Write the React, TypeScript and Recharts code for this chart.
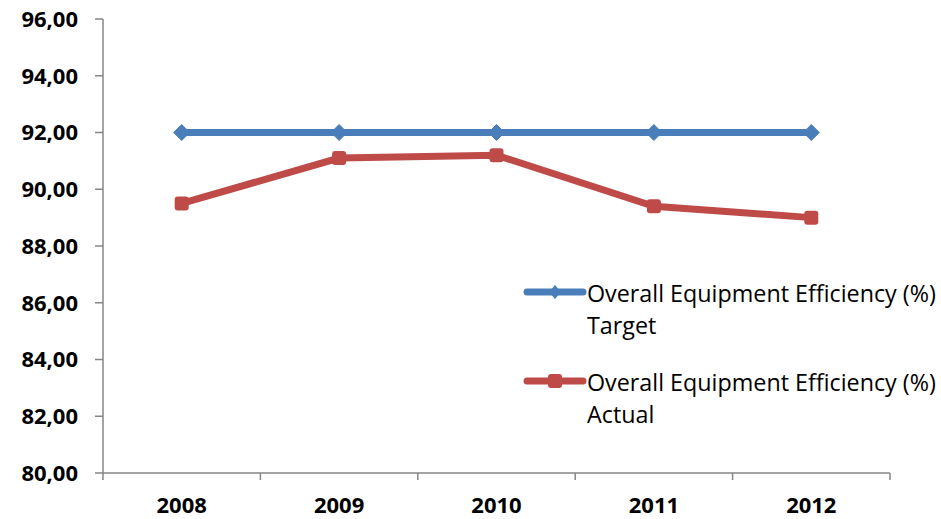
import React from "react";
import { LineChart, Line, XAxis, YAxis, Legend } from "recharts";

const years = ["2008", "2009", "2010", "2011", "2012"];
const targetValues = [92, 92, 92, 92, 92];
const actualValues = [89.5, 91.1, 91.2, 89.4, 89.0];
const yTicks = [80, 82, 84, 86, 88, 90, 92, 94, 96];

const BLUE = "#4A7EBB";
const RED = "#BE4B48";
const AXIS = "#868686";
const FONT = "'Open Sans', sans-serif";

const W = 941;
const H = 519;
const M = { top: 19, right: 51, left: 0, bottom: 0 };
const Y_W = 103;
const X_H = 46;
const BAND = (W - M.right - Y_W) / years.length;

const data = years.map((y, i) => ({
  year: y,
  target: targetValues[i],
  actual: actualValues[i],
}));

const Diamond = ({ cx, cy }: any) =>
  cx == null ? null : (
    <path
      d={`M${cx - 8},${cy} L${cx},${cy - 8} L${cx + 8},${cy} L${cx},${cy + 8} Z`}
      fill={BLUE}
      stroke={BLUE}
      strokeWidth={1}
      strokeLinejoin="round"
    />
  );

const Square = ({ cx, cy }: any) =>
  cx == null ? null : (
    <rect x={cx - 7} y={cy - 7} width={14} height={14} rx={3} fill={RED} />
  );

const XTick = ({ x, y, payload, index }: any) => (
  <g>
    <line x1={x - BAND / 2} y1={y} x2={x - BAND / 2} y2={y + 7} stroke={AXIS} strokeWidth={1.5} />
    {index === years.length - 1 && (
      <line x1={x + BAND / 2} y1={y} x2={x + BAND / 2} y2={y + 7} stroke={AXIS} strokeWidth={1.5} />
    )}
    <text x={x} y={y + 40} textAnchor="middle" fontFamily={FONT} fontWeight="bold" fontSize={22} fill="#000">
      {payload.value}
    </text>
  </g>
);

const fmt = (v: number) => v.toFixed(2).replace(".", ",");

// y labels end 25px left of the axis line
const YTick = ({ y, payload }: any) => (
  <text x={Y_W - 25} y={y} dy="0.36em" textAnchor="end" fontFamily={FONT} fontWeight="bold" fontSize={22} fill="#000">
    {fmt(payload.value)}
  </text>
);

const LegendRow = ({ color, marker, line1, line2 }: any) => (
  <div style={{ display: "flex", alignItems: "flex-start", marginBottom: 25 }}>
    <svg width={64} height={30} style={{ flex: "none" }}>
      <line x1={4} y1={15} x2={60} y2={15} stroke={color} strokeWidth={7} strokeLinecap="round" />
      {marker === "diamond" ? (
        <path d="M32,8 L38,15 L32,22 L26,15 Z" fill={color} />
      ) : (
        <rect x={25} y={8} width={14} height={14} rx={3} fill={color} />
      )}
    </svg>
    <div style={{ lineHeight: "32px", fontSize: 23.3, color: "#000", fontFamily: FONT, whiteSpace: "nowrap" }}>
      <div>{line1}</div>
      <div>{line2}</div>
    </div>
  </div>
);

const LegendBox = () => (
  <div>
    <LegendRow color={BLUE} marker="diamond" line1="Overall Equipment Efficiency (%)" line2="Target" />
    <LegendRow color={RED} marker="square" line1="Overall Equipment Efficiency (%)" line2="Actual" />
  </div>
);

export default function App() {
  return (
    <div style={{ position: "absolute", left: 0, top: 0, width: W, height: H, background: "#fff" }}>
      <LineChart width={W} height={H} data={data} margin={M}>
        <XAxis
          dataKey="year"
          height={X_H}
          stroke={AXIS}
          strokeWidth={1.5}
          tickLine={false}
          tickSize={0}
          tickMargin={0}
          tick={<XTick />}
          interval={0}
          padding={{ left: BAND / 2, right: BAND / 2 }}
        />
        <YAxis
          domain={[80, 96]}
          ticks={yTicks}
          width={Y_W}
          stroke={AXIS}
          strokeWidth={1.5}
          tickSize={8}
          tick={<YTick />}
          interval={0}
        />
        <Legend
          layout="horizontal"
          verticalAlign="middle"
          content={<LegendBox />}
          wrapperStyle={{ position: "absolute", left: 523, top: 277, width: 420 }}
        />
        <Line
          dataKey="target"
          stroke={BLUE}
          strokeWidth={7}
          dot={<Diamond />}
          activeDot={false}
          isAnimationActive={false}
        />
        <Line
          dataKey="actual"
          stroke={RED}
          strokeWidth={7}
          dot={<Square />}
          activeDot={false}
          isAnimationActive={false}
        />
      </LineChart>
    </div>
  );
}
